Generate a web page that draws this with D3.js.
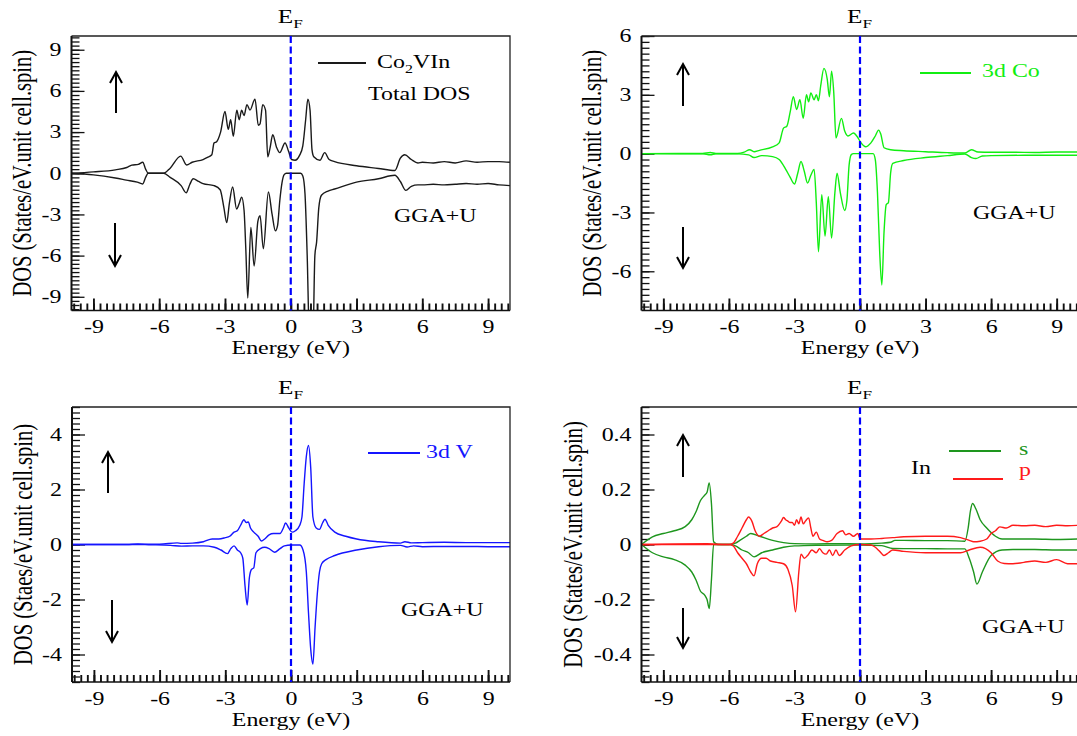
<!DOCTYPE html>
<html>
<head>
<meta charset="utf-8">
<script src="https://cdn.jsdelivr.net/npm/d3@7"></script>
<style>
body { margin: 0; background: #fff; }
svg { display: block; font-family: "Liberation Serif", "Times New Roman", serif; }
</style>
</head>
<body>
<svg id="chart" width="1077" height="736"></svg>
<script>
// Energy axis (eV), shared by all four panels
var energyDomain = [-10, 10];
var energyTicks = [-9, -6, -3, 0, 3, 6, 9];

// Total DOS of Co2VIn, [E, DOS]
var totalUp = [[-10,0],[-9,0.1],[-8,0.25],[-7.48,0.42],[-7.25,0.59],[-6.95,0.65],[-6.75,0.8],[-6.62,0.3],[-6.5,0],[-5.8,0],[-5.5,0.37],[-5.02,1.25],[-4.75,0.6],[-4.5,0.8],[-4.0,1.0],[-3.8,1.15],[-3.6,1.35],[-3.5,2.2],[-3.38,2.3],[-3.2,3.0],[-3.0,4.5],[-2.85,3.2],[-2.74,3.9],[-2.62,2.7],[-2.46,4.6],[-2.35,3.9],[-2.24,4.6],[-2.13,4.2],[-2.0,5.0],[-1.86,4.6],[-1.63,5.4],[-1.48,3.5],[-1.4,3.6],[-1.28,5.0],[-1.15,4.6],[-1.05,1.2],[-0.95,1.8],[-0.82,2.8],[-0.65,1.9],[-0.5,1.5],[-0.26,2.2],[-0.1,1.6],[0.04,1.0],[0.2,0.95],[0.4,1.3],[0.55,2.0],[0.68,3.9],[0.78,5.4],[0.88,4.6],[0.97,1.7],[1.05,1.2],[1.33,0.95],[1.55,1.5],[1.75,1.0],[2,0.85],[3,0.55],[4,0.35],[4.75,0.2],[5.0,1.1],[5.2,1.35],[5.5,1.0],[5.8,0.75],[6,0.8],[6.5,0.75],[7,0.85],[7.5,0.75],[8,0.9],[8.5,0.8],[9,0.85],[9.5,0.85],[10,0.8]];
var totalDown = [[-10,0],[-9,-0.12],[-8,-0.35],[-7.5,-0.5],[-7,-0.65],[-6.75,-0.78],[-6.62,-0.3],[-6.5,0],[-5.8,0],[-5.5,-0.3],[-5.0,-0.9],[-4.77,-1.42],[-4.6,-0.8],[-4.45,-0.4],[-4.2,-0.6],[-4.0,-0.75],[-3.5,-0.9],[-3.22,-1.2],[-3.05,-2.5],[-2.92,-3.6],[-2.8,-2.2],[-2.65,-1.0],[-2.47,-2.6],[-2.35,-2.2],[-2.24,-1.74],[-2.13,-2.7],[-2.05,-5.5],[-1.96,-9.1],[-1.82,-3.95],[-1.67,-6.76],[-1.5,-3.5],[-1.4,-3.1],[-1.25,-5.5],[-1.02,-1.37],[-0.85,-3.0],[-0.7,-4.2],[-0.6,-3.8],[-0.5,-2.0],[-0.4,-0.7],[-0.3,-0.1],[-0.2,0],[0.45,0],[0.55,-0.2],[0.65,-1.5],[0.75,-6],[0.85,-12],[1.0,-13],[1.1,-6],[1.18,-5.0],[1.28,-2.5],[1.4,-1.6],[1.7,-1.3],[2,-1.15],[3,-0.65],[4,-0.4],[4.75,-0.15],[5.0,-0.6],[5.25,-1.25],[5.5,-0.95],[5.8,-0.85],[6,-0.85],[6.5,-0.8],[7,-0.85],[7.5,-0.8],[8,-0.75],[8.5,-0.8],[9,-0.75],[9.5,-0.85],[10,-0.9]];

// 3d Co
var coUp = [[-10,0],[-7.2,0.01],[-6.85,0.06],[-6.6,0.01],[-5.6,0.01],[-5.3,0.08],[-5.05,0.2],[-4.85,0.1],[-4.6,0.17],[-4.0,0.35],[-3.7,0.55],[-3.5,1.3],[-3.35,1.4],[-3.2,2.1],[-3.05,2.9],[-2.9,2.25],[-2.75,2.75],[-2.6,1.8],[-2.45,3.0],[-2.35,2.65],[-2.25,3.1],[-2.1,2.75],[-2.0,3.0],[-1.9,2.7],[-1.8,3.45],[-1.65,4.35],[-1.5,3.8],[-1.4,2.9],[-1.3,4.2],[-1.2,3.1],[-1.1,0.8],[-0.85,1.8],[-0.7,1.15],[-0.55,0.9],[-0.3,1.05],[-0.15,0.9],[0.05,0.55],[0.25,0.35],[0.5,0.55],[0.7,0.9],[0.85,1.2],[0.95,1.0],[1.1,0.3],[1.4,0.2],[2,0.15],[3,0.1],[4,0.05],[4.8,0.03],[5.1,0.2],[5.4,0.08],[6,0.07],[7,0.07],[8,0.06],[9,0.08],[10,0.08]];
var coDown = [[-10,0],[-7.2,-0.01],[-6.85,-0.06],[-6.6,-0.01],[-5.6,-0.01],[-5.1,-0.06],[-4.85,-0.2],[-4.5,-0.1],[-4.0,-0.15],[-3.7,-0.3],[-3.4,-0.8],[-3.2,-1.2],[-3.0,-1.55],[-2.85,-1.0],[-2.7,-0.4],[-2.55,-0.9],[-2.4,-1.5],[-2.25,-1.1],[-2.1,-0.8],[-2.0,-2.5],[-1.9,-5.0],[-1.75,-2.1],[-1.6,-4.2],[-1.45,-2.2],[-1.3,-4.3],[-1.15,-2.0],[-1.05,-1.0],[-0.9,-2.0],[-0.7,-2.9],[-0.6,-2.4],[-0.5,-0.6],[-0.4,-0.05],[-0.3,0],[0.6,0],[0.7,-0.3],[0.8,-2.0],[0.9,-5.0],[1.0,-6.7],[1.1,-4.0],[1.2,-2.6],[1.3,-2.5],[1.4,-1.0],[1.5,-0.5],[2,-0.35],[3,-0.2],[4,-0.1],[4.8,-0.02],[5.1,-0.2],[5.3,-0.25],[5.6,-0.12],[6,-0.1],[8,-0.08],[10,-0.08]];

// 3d V
var vUp = [[-10,0],[-7.5,0],[-7.0,0.02],[-6,0.01],[-5.2,0.06],[-5,0.04],[-4.5,0.05],[-4,0.1],[-3.6,0.2],[-3.3,0.2],[-3.0,0.25],[-2.8,0.3],[-2.6,0.45],[-2.45,0.5],[-2.3,0.7],[-2.15,0.9],[-2.05,0.8],[-1.95,0.82],[-1.85,0.6],[-1.7,0.45],[-1.5,0.3],[-1.35,0.13],[-1.2,0.2],[-1.0,0.35],[-0.8,0.4],[-0.5,0.4],[-0.35,0.6],[-0.25,0.78],[-0.1,0.6],[0.05,0.45],[0.2,0.5],[0.4,0.7],[0.5,1.0],[0.6,2.2],[0.7,3.2],[0.8,3.6],[0.9,2.8],[1.0,1.0],[1.15,0.6],[1.3,0.55],[1.45,0.8],[1.55,0.92],[1.7,0.7],[2,0.45],[2.5,0.3],[3,0.2],[4,0.1],[5,0.05],[5.2,0.1],[5.5,0.06],[6,0.07],[7,0.08],[8,0.07],[9,0.07],[10,0.07]];
var vDown = [[-10,0],[-7,0],[-6.5,-0.01],[-5.5,-0.03],[-5,-0.06],[-4.5,-0.05],[-4,-0.05],[-3.5,-0.1],[-3.2,-0.2],[-2.9,-0.33],[-2.75,-0.15],[-2.6,-0.05],[-2.45,-0.2],[-2.3,-0.3],[-2.2,-0.5],[-2.1,-1.5],[-2.0,-2.2],[-1.9,-1.2],[-1.8,-0.9],[-1.7,-0.85],[-1.6,-0.3],[-1.4,-0.15],[-1.2,-0.1],[-1.0,-0.15],[-0.75,-0.28],[-0.5,-0.15],[-0.3,-0.05],[0,-0.02],[0.4,-0.02],[0.55,-0.2],[0.7,-1.0],[0.8,-2.5],[0.9,-3.8],[1.0,-4.35],[1.1,-3.0],[1.2,-1.8],[1.3,-1.0],[1.4,-0.7],[1.6,-0.55],[2,-0.4],[3,-0.2],[4,-0.08],[5,-0.03],[5.3,-0.09],[5.6,-0.05],[6,-0.08],[7,-0.07],[8,-0.07],[9,-0.08],[10,-0.08]];

// In s and p
var sUp = [[-10,0],[-9.5,0.028],[-9,0.04],[-8.5,0.05],[-8,0.065],[-7.7,0.09],[-7.5,0.12],[-7.3,0.16],[-7.1,0.18],[-7.0,0.19],[-6.9,0.224],[-6.8,0.15],[-6.7,0.01],[-6.5,0],[-6,0],[-5.7,0.005],[-5.5,0.015],[-5.2,0.03],[-5.0,0.04],[-4.6,0.03],[-4.0,0.015],[-3.5,0.007],[-3,0.003],[-2,0.002],[-1,0.003],[0,0.002],[0.5,0.003],[1.0,0.005],[1.4,0.008],[1.6,0.015],[2,0.015],[3,0.014],[4,0.014],[4.8,0.012],[4.95,0.06],[5.05,0.12],[5.15,0.149],[5.3,0.13],[5.5,0.09],[5.8,0.06],[6.2,0.03],[6.5,0.02],[7,0.02],[8,0.02],[9,0.018],[10,0.02]];
var sDown = [[-10,0],[-9.5,-0.03],[-9,-0.045],[-8.5,-0.055],[-8,-0.075],[-7.7,-0.1],[-7.5,-0.13],[-7.3,-0.17],[-7.1,-0.185],[-7.0,-0.2],[-6.9,-0.233],[-6.8,-0.13],[-6.7,0],[-6,0],[-5.7,-0.005],[-5.4,-0.02],[-5.1,-0.03],[-4.85,-0.045],[-4.5,-0.03],[-4,-0.02],[-3.5,-0.01],[-3,-0.005],[-2,-0.003],[0,-0.002],[1.0,-0.004],[1.5,-0.0145],[2,-0.015],[3,-0.015],[4,-0.016],[4.8,-0.016],[5.0,-0.05],[5.2,-0.1],[5.35,-0.144],[5.6,-0.1],[6.0,-0.04],[6.5,-0.02],[7,-0.018],[8,-0.018],[9,-0.02],[10,-0.02]];
var pUp = [[-10,0],[-7,0.003],[-6.6,0.001],[-6,0],[-5.8,0.005],[-5.6,0.03],[-5.4,0.06],[-5.2,0.09],[-5.1,0.1],[-4.95,0.085],[-4.8,0.05],[-4.6,0.03],[-4.4,0.04],[-4.2,0.05],[-4.0,0.06],[-3.8,0.065],[-3.6,0.085],[-3.5,0.098],[-3.4,0.09],[-3.3,0.085],[-3.2,0.08],[-3.1,0.08],[-3.0,0.07],[-2.9,0.09],[-2.8,0.075],[-2.7,0.1],[-2.6,0.075],[-2.5,0.085],[-2.35,0.097],[-2.25,0.06],[-2.15,0.03],[-2.0,0.045],[-1.85,0.02],[-1.7,0.015],[-1.5,0.01],[-1.3,0.015],[-1.05,0.04],[-0.8,0.05],[-0.65,0.035],[-0.5,0.04],[-0.3,0.03],[-0.1,0.04],[0,0.02],[0.5,0.02],[1.0,0.022],[1.5,0.025],[2,0.028],[3,0.03],[4,0.03],[4.6,0.025],[5.0,0.015],[5.2,0.01],[5.5,0.012],[5.8,0.02],[6.0,0.04],[6.2,0.05],[6.4,0.064],[6.7,0.06],[7.0,0.07],[7.5,0.068],[8,0.07],[8.5,0.065],[9,0.07],[9.5,0.068],[10,0.07]];
var pDown = [[-10,0],[-6,0],[-5.8,-0.005],[-5.6,-0.03],[-5.4,-0.05],[-5.2,-0.07],[-5.0,-0.1],[-4.85,-0.114],[-4.7,-0.07],[-4.5,-0.05],[-4.3,-0.05],[-4.1,-0.06],[-3.8,-0.065],[-3.5,-0.07],[-3.3,-0.09],[-3.1,-0.15],[-2.95,-0.245],[-2.8,-0.1],[-2.7,-0.035],[-2.55,-0.05],[-2.4,-0.04],[-2.2,-0.02],[-2.0,-0.03],[-1.85,-0.015],[-1.7,-0.03],[-1.55,-0.035],[-1.4,-0.02],[-1.25,-0.04],[-1.1,-0.02],[-0.95,-0.04],[-0.7,-0.02],[-0.4,-0.005],[0,0],[0.5,-0.002],[0.7,-0.01],[0.9,-0.025],[1.1,-0.04],[1.3,-0.03],[1.5,-0.02],[2,-0.025],[3,-0.03],[4,-0.03],[4.6,-0.03],[5.0,-0.02],[5.5,-0.01],[6.0,-0.03],[6.3,-0.06],[6.6,-0.069],[7,-0.07],[7.5,-0.065],[8,-0.06],[8.5,-0.065],[9,-0.055],[9.5,-0.07],[10,-0.07]];

// y axes
var yDomains = [[-10, 10], [-8, 6], [-5, 5], [-0.5, 0.5]];
var yTickSets = [[-9,-6,-3,0,3,6,9], [-6,-3,0,3,6], [-4,-2,0,2,4], [-0.4,-0.2,0,0.2,0.4]];
var yMinorSteps = [0.3, 0.3, 0.2, 0.02];
var yLabels = ["DOS (States/eV.unit cell.spin)", "DOS (States/eV.unit cell.spin)",
               "DOS (Staes/eV.unit cell.spin)", "DOS (States/eV.unit cell.spin)"];

// the source picture is stretched sideways, so text is too
var SX = 1.33;
var svg = d3.select("#chart");

function txt(parent, x, y, str, size, anchor, fill) {
  return parent.append("text")
    .attr("transform", "translate(" + x + "," + y + ") scale(" + SX + ",1)")
    .attr("font-size", size)
    .attr("text-anchor", anchor || "start")
    .attr("fill", fill || "#000")
    .text(str);
}

function minorTicks(domain, step) {
  var lo = Math.ceil(domain[0] / step - 1e-9), hi = Math.floor(domain[1] / step + 1e-9);
  return d3.range(lo, hi + 1).map(function(k) { return +(k * step).toFixed(6); });
}

function arrow(g, x, yTop, yBot, up) {
  var tip = up ? yTop : yBot, s = up ? 1 : -1;
  g.append("path")
    .attr("d", "M" + x + "," + yTop + "L" + x + "," + yBot +
      "M" + (x - 6) + "," + (tip + s * 11) + "L" + x + "," + tip + "L" + (x + 6) + "," + (tip + s * 11))
    .attr("fill", "none").attr("stroke", "#000").attr("stroke-width", 2);
}

var boxes = [
  {x0: 71.5, x1: 510, y0: 36, y1: 310.5, ylx: 22},
  {x0: 641.5, x1: 1078.5, y0: 36, y1: 310.5, ylx: 592},
  {x0: 72, x1: 510, y0: 407, y1: 682, ylx: 23},
  {x0: 641.5, x1: 1078.5, y0: 407, y1: 682, ylx: 573}
];

var seriesSets = [
  [{d: totalUp, c: "#1a1a1a"}, {d: totalDown, c: "#1a1a1a"}],
  [{d: coUp, c: "#11ee11"}, {d: coDown, c: "#11ee11"}],
  [{d: vUp, c: "#1515ff"}, {d: vDown, c: "#1515ff"}],
  [{d: sUp, c: "#1e961e"}, {d: sDown, c: "#1e961e"}, {d: pUp, c: "#ff1a1a"}, {d: pDown, c: "#ff1a1a"}]
];

var panels = [];

boxes.forEach(function(b, i) {
  var g = svg.append("g");
  var x = d3.scaleLinear().domain(energyDomain).range([b.x0, b.x1]);
  var y = d3.scaleLinear().domain(yDomains[i]).range([b.y1, b.y0]);
  panels.push({g: g, x: x, y: y, b: b});

  svg.append("clipPath").attr("id", "clip" + i).append("rect")
    .attr("x", b.x0).attr("y", b.y0).attr("width", b.x1 - b.x0).attr("height", b.y1 - b.y0);

  // x ticks (inward)
  var xm = g.append("g").attr("transform", "translate(0," + b.y1 + ")")
    .call(d3.axisBottom(x).tickValues(minorTicks(energyDomain, 0.3)).tickSize(-7).tickSizeOuter(0).tickFormat(""));
  var xa = g.append("g").attr("transform", "translate(0," + b.y1 + ")")
    .call(d3.axisBottom(x).tickValues(energyTicks).tickSize(-12).tickSizeOuter(0).tickPadding(10)
      .tickFormat(function(d) { return String(d); }));
  // y ticks (inward)
  var ym = g.append("g").attr("transform", "translate(" + b.x0 + ",0)")
    .call(d3.axisLeft(y).tickValues(minorTicks(yDomains[i], yMinorSteps[i])).tickSize(-8).tickSizeOuter(0).tickFormat(""));
  var ya = g.append("g").attr("transform", "translate(" + b.x0 + ",0)")
    .call(d3.axisLeft(y).tickValues(yTickSets[i]).tickSize(-13).tickSizeOuter(0).tickPadding(7.5)
      .tickFormat(function(d) { return String(d); }));

  [xm, xa, ym, ya].forEach(function(a) {
    a.select(".domain").remove();
    a.attr("font-family", null).attr("font-size", 18);
    a.selectAll("text").attr("fill", "#000").attr("transform", "scale(" + SX + ",1)");
  });
  [xm, xa].forEach(function(a) { a.selectAll("line").attr("stroke", "#111").attr("stroke-width", 1.9); });
  [ym, ya].forEach(function(a) { a.selectAll("line").attr("stroke", "#111").attr("stroke-width", 1.3); });

  // curves
  var line = d3.line().x(function(d) { return x(d[0]); }).y(function(d) { return y(d[1]); })
    .curve(d3.curveMonotoneX);
  seriesSets[i].forEach(function(s) {
    g.append("path").datum(s.d)
      .attr("clip-path", "url(#clip" + i + ")")
      .attr("fill", "none").attr("stroke", s.c).attr("stroke-width", 1.4)
      .attr("stroke-linejoin", "round")
      .attr("d", line);
  });

  // frame
  g.append("path")
    .attr("d", "M" + b.x0 + "," + b.y0 + "H" + b.x1 + "V" + b.y1)
    .attr("fill", "none").attr("stroke", "#222").attr("stroke-width", 1.3);
  g.append("line").attr("x1", b.x0).attr("x2", b.x0).attr("y1", b.y0).attr("y2", b.y1)
    .attr("stroke", "#111").attr("stroke-width", 2);
  g.append("line").attr("x1", b.x0).attr("x2", b.x1).attr("y1", b.y1).attr("y2", b.y1)
    .attr("stroke", "#111").attr("stroke-width", 1.5);

  // Fermi level
  g.append("line").attr("x1", x(0)).attr("x2", x(0)).attr("y1", b.y0).attr("y2", b.y1)
    .attr("stroke", "#0000ff").attr("stroke-width", 2.2).attr("stroke-dasharray", "7,3.5");
  var ef = txt(g, x(0) - 13, b.y0 - 13, "E", 19);
  ef.append("tspan").attr("font-size", 13).attr("dy", 5).text("F");

  // axis titles
  txt(g, x(0), b.y1 + 43.5, "Energy (eV)", 18, "middle");
  g.append("text")
    .attr("transform", "translate(" + b.ylx + "," + ((b.y0 + b.y1) / 2) + ") scale(" + SX + ",1) rotate(-90)")
    .attr("font-size", 20.5).attr("text-anchor", "middle").attr("dominant-baseline", "central")
    .text(yLabels[i]);
});

// panel notes and legends
var p = panels;
// Total DOS
p[0].g.append("line").attr("x1", 318).attr("x2", 366).attr("y1", 63).attr("y2", 63)
  .attr("stroke", "#1a1a1a").attr("stroke-width", 1.8);
var co = txt(p[0].g, 377, 68, "Co", 18);
co.append("tspan").attr("font-size", 12).attr("dy", 5).text("2");
co.append("tspan").attr("dy", -5).text("VIn");
txt(p[0].g, 368, 100, "Total DOS", 18);
txt(p[0].g, 394, 222, "GGA+U", 18);
arrow(p[0].g, 116, 72, 113, true);
arrow(p[0].g, 115, 223, 266, false);

// 3d Co
p[1].g.append("line").attr("x1", 920).attr("x2", 971).attr("y1", 73).attr("y2", 73)
  .attr("stroke", "#11ee11").attr("stroke-width", 1.8);
txt(p[1].g, 982, 77, "3d Co", 18, "start", "#11ee11");
txt(p[1].g, 973, 219, "GGA+U", 18);
arrow(p[1].g, 683, 64, 106, true);
arrow(p[1].g, 683, 227, 268, false);

// 3d V
p[2].g.append("line").attr("x1", 368).attr("x2", 420).attr("y1", 453).attr("y2", 453)
  .attr("stroke", "#1515ff").attr("stroke-width", 1.8);
txt(p[2].g, 426, 458, "3d V", 18, "start", "#1515ff");
txt(p[2].g, 401, 616, "GGA+U", 18);
arrow(p[2].g, 108, 452, 493, true);
arrow(p[2].g, 112, 600, 642, false);

// In s, p
txt(p[3].g, 911, 474, "In", 18);
p[3].g.append("line").attr("x1", 949).attr("x2", 1001).attr("y1", 451).attr("y2", 451)
  .attr("stroke", "#1e961e").attr("stroke-width", 1.8);
txt(p[3].g, 1019, 455, "s", 18, "start", "#1e961e");
p[3].g.append("line").attr("x1", 953).attr("x2", 1003).attr("y1", 479).attr("y2", 479)
  .attr("stroke", "#ff1a1a").attr("stroke-width", 1.8);
txt(p[3].g, 1019, 476, "p", 18, "start", "#ff1a1a");
txt(p[3].g, 982, 633, "GGA+U", 18);
arrow(p[3].g, 683, 435, 477, true);
arrow(p[3].g, 683, 608, 648, false);
</script>
</body>
</html>
